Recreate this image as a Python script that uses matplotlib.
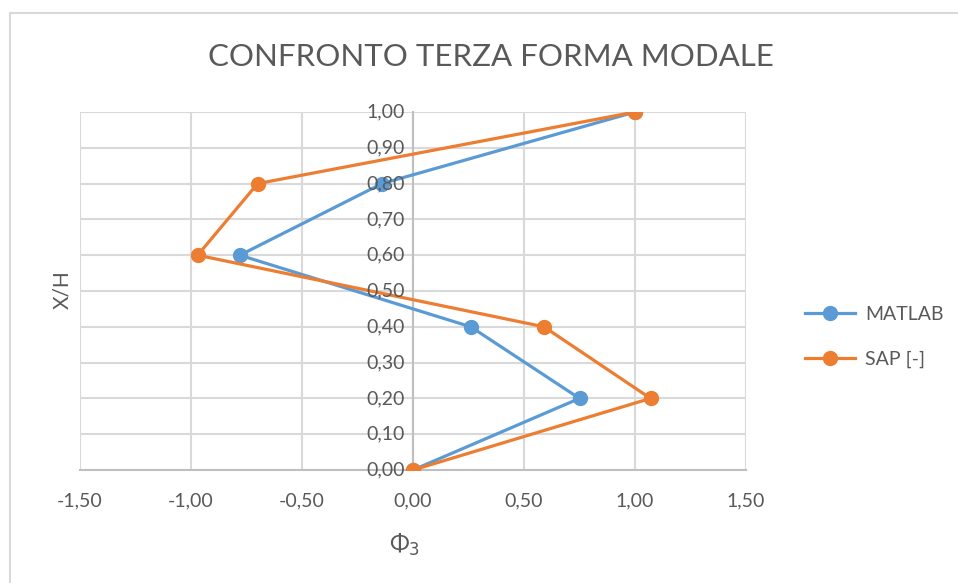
import matplotlib
import matplotlib.pyplot as plt
import matplotlib.transforms as mtransforms
from matplotlib.ticker import FuncFormatter, MultipleLocator, NullFormatter

# dati
livelli = [0.0, 0.2, 0.4, 0.6, 0.8, 1.0]
matlab = [0.0, 0.75, 0.26, -0.78, -0.14, 1.0]
sap = [0.0, 1.07, 0.59, -0.97, -0.70, 1.0]
tacche_y = [0.0, 0.1, 0.2, 0.3, 0.4, 0.5, 0.6, 0.7, 0.8, 0.9, 1.0]

plt.rcParams['font.family'] = ['Lato', 'DejaVu Sans']
grigio = '#595959'

fig = plt.figure(figsize=(9.58, 5.83), dpi=100)
ax = fig.add_axes([80/958, 1-470/583, (746-80)/958, (470-112)/583])

ax.plot(matlab, livelli, color='#5b9bd5', linewidth=2.3, marker='o', ms=10, label='MATLAB', zorder=3)
ax.plot(sap, livelli, color='#ed7d31', linewidth=2.3, marker='o', ms=10, label='SAP [-]', zorder=4)

ax.set_xlim(-1.5, 1.5)
ax.set_ylim(0, 1.0)
ax.xaxis.set_major_locator(MultipleLocator(0.5))
ax.set_yticks(tacche_y)
fmt = lambda v: ('%.2f' % v).replace('.', ',')
ax.xaxis.set_major_formatter(FuncFormatter(lambda v, p: fmt(v)))
ax.yaxis.set_major_formatter(NullFormatter())

ax.grid(True, color='#d9d9d9', linewidth=1.5)
ax.set_axisbelow(True)
for s in ['top', 'right']:
    ax.spines[s].set_visible(False)
ax.spines['left'].set_position(('data', 0))
ax.spines['left'].set_color('#bfbfbf')
ax.spines['left'].set_linewidth(1.5)
ax.spines['bottom'].set_color('#bfbfbf')
ax.spines['bottom'].set_linewidth(1.5)
ax.tick_params(length=0, labelsize=14, colors=grigio)
ax.tick_params(axis='x', pad=16)

# etichette asse y sopra le linee, come in Excel
spost = mtransforms.ScaledTranslation(-6/72, 0, fig.dpi_scale_trans)
for v in tacche_y:
    ax.text(0, v, fmt(v), ha='right', va='center', fontsize=14, color=grigio,
            transform=ax.transData + spost, zorder=6)

fig.text(62/958, 1-290/583, 'X/H', rotation=90, ha='center', va='center', fontsize=15, color=grigio)
fig.text(405/958, 1-545/583, 'Φ$_3$', ha='center', va='center', fontsize=17, color=grigio)
fig.text(491/958, 1-57/583, 'CONFRONTO TERZA FORMA MODALE', ha='center', va='center', fontsize=22.5, color=grigio)

fig.legend(loc='center left', bbox_to_anchor=(787/958, 1-337/583), frameon=False,
           fontsize=14, labelcolor=grigio, handlelength=2.6, labelspacing=1.4, handletextpad=0.5)

# bordo dell'area del grafico (solo alto e sinistra visibili)
fig.add_artist(plt.Line2D([10/958, 10/958], [0, 1-13/583], color='#d9d9d9', lw=1.5, transform=fig.transFigure))
fig.add_artist(plt.Line2D([10/958, 1], [1-13/583, 1-13/583], color='#d9d9d9', lw=1.5, transform=fig.transFigure))

plt.savefig('out.png', dpi=100)
